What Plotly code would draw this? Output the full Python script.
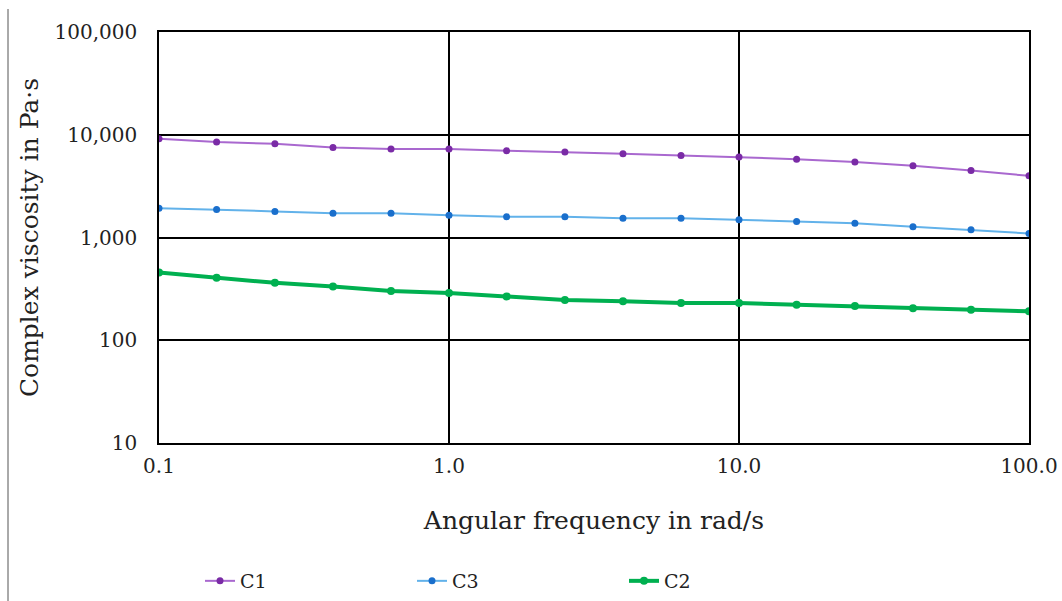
import plotly.graph_objects as go

freq = [0.1, 0.158, 0.251, 0.398, 0.631, 1.0, 1.58, 2.51, 3.98, 6.31, 10.0, 15.8, 25.1, 39.8, 63.1, 100.0]
c1 = [9140, 8490, 8170, 7520, 7250, 7250, 6980, 6780, 6530, 6280, 6060, 5790, 5420, 4990, 4490, 3980]
c3 = [1930, 1875, 1795, 1725, 1725, 1650, 1592, 1592, 1542, 1542, 1488, 1432, 1380, 1271, 1188, 1094]
c2 = [457, 405, 362, 334, 301, 288, 267, 247, 240, 231, 230, 221, 215, 205, 198, 191]

x_tickvals = [0.1, 1, 10, 100]
x_ticktext = ["0.1", "1.0", "10.0", "100.0"]
y_tickvals = [10, 100, 1000, 10000, 100000]
y_ticktext = ["10", "100", "1,000", "10,000", "100,000"]

FONT = "DejaVu Serif"
W, H = 1062, 601
L, R, T, B = 159, 33, 32, 158
PW, PH = W - L - R, H - T - B

fig = go.Figure()
fig.add_trace(go.Scatter(x=freq, y=c1, name="C1", mode="lines+markers",
                         line=dict(color="#A968CF", width=2),
                         marker=dict(color="#7A2BA6", size=7)))
fig.add_trace(go.Scatter(x=freq, y=c3, name="C3", mode="lines+markers",
                         line=dict(color="#62B2EA", width=2),
                         marker=dict(color="#1A6FCC", size=7)))
fig.add_trace(go.Scatter(x=freq, y=c2, name="C2", mode="lines+markers",
                         line=dict(color="#00B050", width=4),
                         marker=dict(color="#00B050", size=8)))

fig.update_layout(
    width=W, height=H,
    margin=dict(l=L, r=R, t=T, b=B, autoexpand=False),
    paper_bgcolor="white", plot_bgcolor="white",
    font=dict(family=FONT, color="#222222", size=18),
    showlegend=True,
    legend=dict(orientation="h", x=(200 - L) / PW, xanchor="left",
                y=-(562 - (H - B)) / PH, yanchor="top",
                font=dict(size=19, family=FONT), entrywidth=167, entrywidthmode="pixels",
                itemwidth=30),
    xaxis=dict(type="log", range=[-1, 2], tickvals=x_tickvals, ticktext=x_ticktext,
               showgrid=True, gridcolor="black", gridwidth=1.5,
               showline=True, linecolor="black", linewidth=1.5, mirror=True,
               ticks="", tickfont=dict(size=20, family=FONT), ticklabelstandoff=4,
               automargin=False,
               title=dict(text="Angular frequency in rad/s", font=dict(size=25, family=FONT), standoff=35)),
    yaxis=dict(type="log", range=[1, 5], tickvals=y_tickvals, ticktext=y_ticktext,
               showgrid=True, gridcolor="black", gridwidth=1.5,
               showline=True, linecolor="black", linewidth=1.5, mirror=True,
               ticks="", tickfont=dict(size=20, family=FONT), ticklabelstandoff=16,
               automargin=False,
               title=dict(text="Complex viscosity in Pa·s", font=dict(size=25, family=FONT), standoff=9)),
)

fig.add_shape(type="line", xref="paper", yref="paper",
              x0=(8 - L) / PW, x1=(8 - L) / PW, y0=(H - B - 9) / PH, y1=-(B) / PH,
              line=dict(color="#555555", width=1))

fig.write_html("out.html", config={"displayModeBar": False},
               post_script="document.body.style.margin='0';")
